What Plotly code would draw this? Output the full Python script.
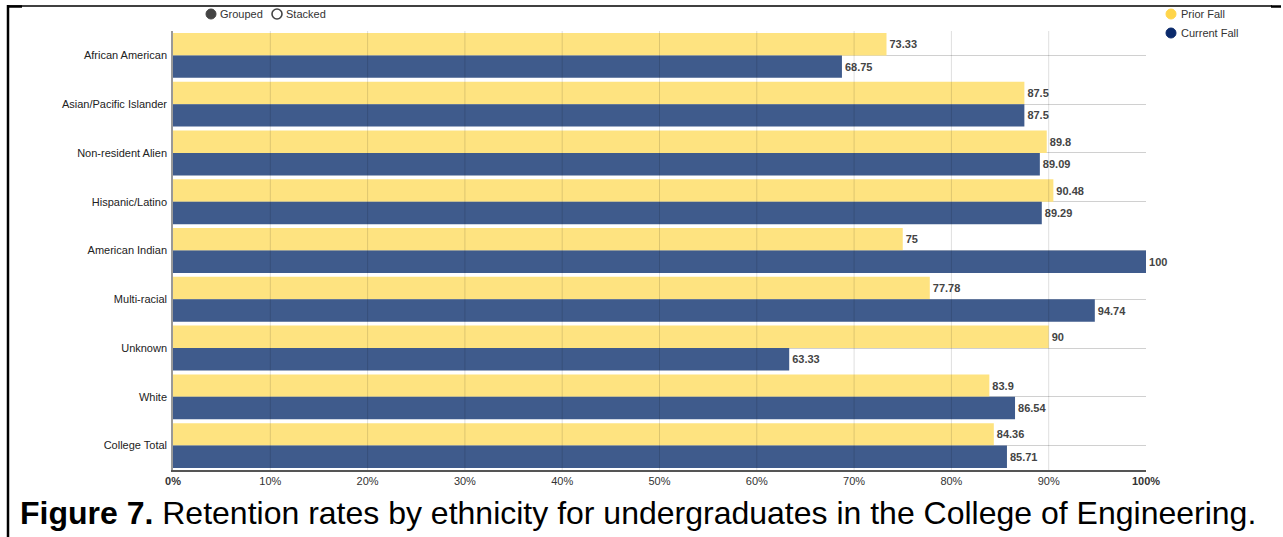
import plotly.graph_objects as go

# Retention rates (%) by ethnicity, undergraduates, College of Engineering
categories = [
    "African American",
    "Asian/Pacific Islander",
    "Non-resident Alien",
    "Hispanic/Latino",
    "American Indian",
    "Multi-racial",
    "Unknown",
    "White",
    "College Total",
]
prior_fall = [73.33, 87.5, 89.8, 90.48, 75, 77.78, 90, 83.9, 84.36]
current_fall = [68.75, 87.5, 89.09, 89.29, 100, 94.74, 63.33, 86.54, 85.71]
x_ticks = [0, 10, 20, 30, 40, 50, 60, 70, 80, 90, 100]
x_tick_labels = ["<b>0%</b>", "10%", "20%", "30%", "40%", "50%",
                 "60%", "70%", "80%", "90%", "<b>100%</b>"]

W, H = 1283, 537
L, R, T, B = 173, 137, 31, 67
PW, PH = W - L - R, H - T - B
FONT = "Arial, Liberation Sans, sans-serif"

YELLOW = "#FEE380"
BLUE = "#3F5B8C"


def px(x):
    return (x - L) / PW


def py(y):
    return (H - B - y) / PH


fig = go.Figure()
for name, vals, color in [("Prior Fall", prior_fall, YELLOW),
                          ("Current Fall", current_fall, BLUE)]:
    fig.add_trace(go.Bar(
        name=name, y=categories, x=vals, orientation="h",
        marker=dict(color=color, line=dict(width=0)),
        text=[f"{v:g}" for v in vals], textposition="outside",
        textfont=dict(family=FONT, size=11, color="#444444"),
        texttemplate="<b>%{text}</b>", cliponaxis=False,
        hoverinfo="x+y+name",
    ))

shapes = []
# vertical grid drawn over the bars
for t in x_ticks[1:-1]:
    shapes.append(dict(type="line", xref="x", yref="paper", x0=t, x1=t,
                       y0=0, y1=1, layer="above",
                       line=dict(color="rgba(0,0,0,0.13)", width=1)))

# frame around the figure
shapes += [
    dict(type="line", xref="paper", yref="paper", x0=px(8), x1=px(8),
         y0=py(5), y1=py(H + 5), line=dict(color="black", width=2.5)),
    dict(type="line", xref="paper", yref="paper", x0=px(7), x1=px(1272),
         y0=py(6), y1=py(6), line=dict(color="black", width=1.3)),
    dict(type="line", xref="paper", yref="paper", x0=px(7), x1=px(22),
         y0=py(6.5), y1=py(6.5), line=dict(color="black", width=2.5)),
    dict(type="line", xref="paper", yref="paper", x0=px(1271), x1=px(1281),
         y0=py(6.5), y1=py(6.5), line=dict(color="black", width=2.5)),
]

# Grouped / Stacked selector
shapes += [
    dict(type="circle", xref="paper", yref="paper",
         x0=px(206), x1=px(216), y0=py(9), y1=py(19),
         fillcolor="#444444", line=dict(color="#444444", width=1)),
    dict(type="circle", xref="paper", yref="paper",
         x0=px(272), x1=px(282), y0=py(9), y1=py(19),
         fillcolor="white", line=dict(color="#444444", width=1.6)),
]
# legend markers
shapes += [
    dict(type="circle", xref="paper", yref="paper",
         x0=px(1166), x1=px(1176), y0=py(9), y1=py(19),
         fillcolor="#FFD54A", line=dict(color="#FFD54A", width=1)),
    dict(type="circle", xref="paper", yref="paper",
         x0=px(1166), x1=px(1176), y0=py(28), y1=py(38),
         fillcolor="#0B2A6B", line=dict(color="#0B2A6B", width=1)),
]

annotations = []
for txt, x0, y0 in [("Grouped", 218, 14), ("Stacked", 284, 14),
                    ("Prior Fall", 1179, 14), ("Current Fall", 1179, 33)]:
    annotations.append(dict(text=txt, xref="paper", yref="paper",
                            x=px(x0), y=py(y0), xanchor="left",
                            yanchor="middle", showarrow=False,
                            font=dict(family=FONT, size=11, color="#333333")))

annotations.append(dict(
    text="<b>Figure 7.</b> Retention rates by ethnicity for undergraduates "
         "in the College of Engineering.",
    xref="paper", yref="paper", x=px(18), y=py(513), xanchor="left",
    yanchor="middle", showarrow=False,
    font=dict(family=FONT, size=32, color="black")))

fig.update_layout(
    width=W, height=H,
    margin=dict(l=L, r=R, t=T, b=B),
    paper_bgcolor="white", plot_bgcolor="white",
    barmode="group", bargap=0.08, bargroupgap=0,
    showlegend=False,
    font=dict(family=FONT, size=11, color="#333333"),
    shapes=shapes, annotations=annotations,
    xaxis=dict(range=[0, 100], tickvals=x_ticks, ticktext=x_tick_labels,
               showgrid=False, zeroline=False, showline=True,
               linecolor="#555555", linewidth=1.5, ticks="",
               tickfont=dict(family=FONT, size=11, color="#333333"),
               fixedrange=True),
    yaxis=dict(autorange="reversed", showgrid=True, gridcolor="#D0D0D0",
               gridwidth=1, showline=True, linecolor="#999999", linewidth=1.5,
               ticks="", ticklabelstandoff=2,
               tickfont=dict(family=FONT, size=11, color="#222222"),
               fixedrange=True),
)

fig.write_html("out.html")
